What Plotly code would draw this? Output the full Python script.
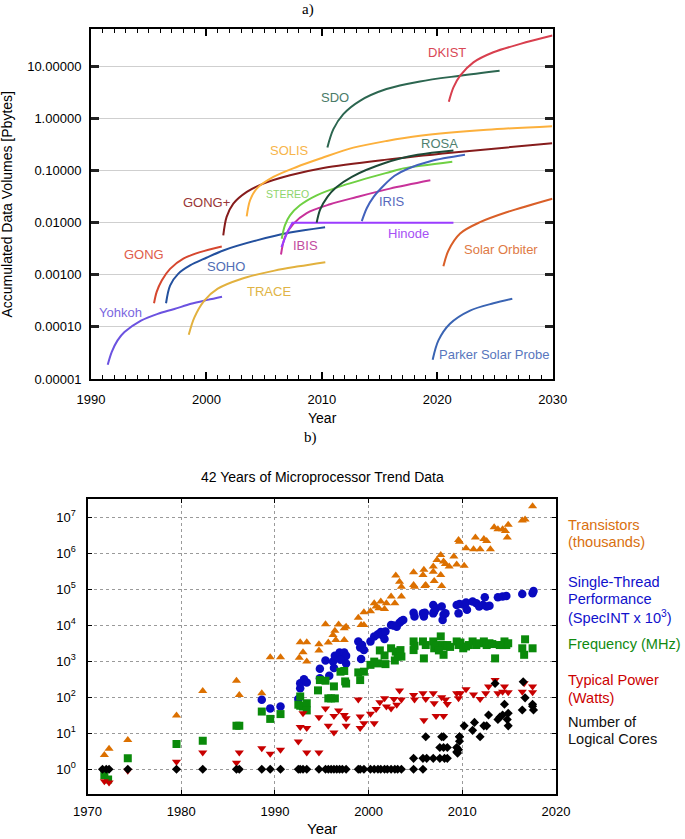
import math
import plotly.graph_objects as go

W, H = 685, 839

# ================= panel a) : accumulated data volumes (Pbytes) =================
yohkoh_x = [1991.45, 1991.8, 1992.3, 1992.9, 1994.33, 1995.78, 1997.22, 1998.66, 2000.1, 2001.35]
yohkoh_v = [1.88e-5, 3.31e-5, 5.5e-5, 7.94e-5, 1.32e-4, 1.78e-4, 2.2e-4, 2.77e-4, 3.3e-4, 3.8e-4]

trace_x = [1998.47, 1998.95, 1999.82, 2000.98, 2003.0, 2005.9, 2008.0, 2010.3]
trace_v = [7.1e-5, 1.51e-4, 3.2e-4, 5.4e-4, 8.3e-4, 1.2e-3, 1.45e-3, 1.74e-3]

gong_x = [1995.46, 1995.69, 1996.13, 1996.85, 1998.0, 1999.45, 2001.33]
gong_v = [2.84e-4, 4.7e-4, 7.8e-4, 1.30e-3, 2.04e-3, 2.72e-3, 3.5e-3]

soho_x = [1996.5, 1996.85, 1997.57, 1998.58, 2000.0, 2001.46, 2004.36, 2007.24, 2010.28]
soho_v = [2.84e-4, 6.2e-4, 1.05e-3, 1.51e-3, 2.12e-3, 2.93e-3, 4.57e-3, 6.45e-3, 8.2e-3]

gongp_x = [2001.46, 2001.75, 2002.33, 2003.5, 2004.93, 2007.24, 2010.13, 2015.6, 2021.4, 2029.95]
gongp_v = [5.7e-3, 0.0129, 0.0232, 0.039, 0.056, 0.081, 0.112, 0.162, 0.222, 0.335]

solis_x = [2003.49, 2003.78, 2004.36, 2005.8, 2007.82, 2010.0, 2012.73, 2015.62, 2018.5, 2024.3, 2029.95]
solis_v = [0.0132, 0.0269, 0.045, 0.0753, 0.117, 0.174, 0.275, 0.37, 0.463, 0.604, 0.711]

stereo_x = [2006.52, 2006.8, 2007.24, 2008.1, 2009.55, 2011.86, 2015.9, 2017.06, 2021.3]
stereo_v = [4.9e-3, 8.9e-3, 0.0138, 0.0215, 0.0335, 0.052, 0.094, 0.11, 0.148]

ibis_x = [2006.46, 2006.8, 2007.53, 2008.69, 2010.71, 2013.02, 2015.9, 2019.4]
ibis_v = [2.45e-3, 5.3e-3, 9.5e-3, 0.0153, 0.0225, 0.031, 0.045, 0.065]

hinode_x = [2006.5, 2007.0, 2007.45, 2021.4]
hinode_v = [3.4e-3, 6.5e-3, 0.01, 0.01]

rosa_x = [2009.55, 2009.85, 2010.5, 2011.2, 2012.6, 2015.4, 2018.3, 2021.4]
rosa_v = [0.01, 0.0178, 0.0316, 0.0468, 0.0759, 0.138, 0.2, 0.243]

sdo_x = [2010.48, 2011.0, 2011.86, 2013.3, 2015.6, 2018.5, 2021.98, 2025.4]
sdo_v = [0.277, 0.622, 1.21, 2.18, 3.66, 5.13, 6.6, 8.22]

iris_x = [2013.46, 2013.9, 2014.5, 2015.3, 2016.3, 2017.5, 2019.4, 2022.4]
iris_v = [0.0107, 0.0191, 0.0316, 0.0501, 0.0794, 0.1096, 0.151, 0.2]

dkist_x = [2021.0, 2021.4, 2021.98, 2023.13, 2024.86, 2027.2, 2029.97]
dkist_v = [2.09, 3.94, 6.6, 11.9, 18.6, 26.9, 38.9]

solo_x = [2020.53, 2020.97, 2021.98, 2023.7, 2026.0, 2029.97]
solo_v = [1.45e-3, 2.93e-3, 6.2e-3, 0.0102, 0.0158, 0.0288]

parker_x = [2019.6, 2020.1, 2021.1, 2022.84, 2024.86, 2026.5]
parker_v = [2.34e-5, 5.5e-5, 1.15e-4, 2.06e-4, 2.84e-4, 3.47e-4]

# label text, position (year, Pbytes)
mission_labels = ["DKIST", "SDO", "SOLIS", "ROSA", "GONG+", "STEREO", "IRIS", "Hinode", "IBIS",
                  "GONG", "SOHO", "Solar Orbiter", "TRACE", "Yohkoh", "Parker Solar Probe"]
label_year = [2020.81, 2011.16, 2007.2, 2020.2, 1999.99, 2007.05, 2016.11, 2017.53, 2008.6,
              1994.59, 2001.72, 2025.53, 2005.44, 1992.54, 2024.94]
label_val = [18.6, 2.47, 0.245, 0.332, 0.0249, 0.0361, 0.0257, 0.00617, 0.00363,
             0.00244, 0.00146, 0.00302, 0.00048, 0.00019, 0.00003]

a_ticks = [1e-5, 1e-4, 1e-3, 1e-2, 1e-1, 1, 10]
a_ticktext = ["0.00001", "0.00010", "0.00100", "0.01000", "0.10000", "1.00000", "10.00000"]

# ================= panel b) : microprocessor trend data =================
tr_year = [1971.8, 1972.3, 1974.3, 1979.5, 1982.3, 1985.9, 1986.2, 1988.6, 1989.5, 1990.6,
           1992.6, 1992.7, 1993.0, 1993.4, 1993.4, 1994.7, 1994.7, 1995.4, 1995.7, 1996.2,
           1996.4, 1996.8, 1996.5, 1997.4, 1997.6, 1997.4, 1998.9, 1999.2, 1999.5, 1999.5,
           2000.2, 2000.6, 2000.8, 2001.1, 2001.3, 2001.7, 2001.9, 2002.4, 2002.8, 2002.9,
           2003.3, 2003.5, 2003.5, 2004.8, 2004.8, 2004.9, 2005.8, 2005.9, 2006.0, 2006.1,
           2006.9, 2006.9, 2007.0, 2007.3, 2007.7, 2007.7, 2007.8, 2008.0, 2008.2, 2008.6,
           2009.1, 2009.4, 2009.6, 2009.7, 2010.2, 2010.4, 2011.2, 2011.4, 2011.9, 2012.3,
           2012.6, 2013.0, 2013.4, 2013.8, 2014.3, 2014.6, 2014.9, 2014.8, 2016.4, 2016.7, 2017.5]
tr_val = [2.5, 3.7, 6.5, 31, 148, 288, 115, 129, 1290, 1290,
          1260, 3390, 1780, 3390, 977, 2950, 2000, 10700, 3310, 5370,
          7080, 10500, 3890, 8320, 9120, 3890, 16200, 10200, 10200, 22900,
          24500, 40700, 33100, 29500, 45700, 28200, 40700, 63100, 40700, 240000,
          162000, 117000, 63100, 295000, 132000, 117000, 251000, 347000, 123000, 132000,
          427000, 309000, 170000, 646000, 891000, 251000, 123000, 589000, 501000, 427000,
          813000, 490000, 2340000, 2090000, 447000, 1380000, 1290000, 2750000, 1290000, 2510000,
          2190000, 1290000, 5250000, 4680000, 4680000, 4170000, 6170000, 2750000, 8130000, 8710000, 20400000]

st_year = [1988.6, 1989.5, 1990.6, 1992.5, 1992.7, 1992.7, 1993.1, 1993.4, 1994.8, 1994.8,
           1995.4, 1995.8, 1996.2, 1996.3, 1996.4, 1996.9, 1997.2, 1997.4, 1997.6, 1997.6,
           1997.0, 1998.9, 1999.1, 1999.3, 1999.5, 1999.2, 2000.2, 2000.6, 2001.0, 2001.3,
           2001.5, 2001.7, 2001.8, 2002.4, 2002.7, 2003.0, 2003.3, 2003.5, 2003.7, 2004.8,
           2004.9, 2005.8, 2005.9, 2006.0, 2006.9, 2006.9, 2007.0, 2007.2, 2007.8, 2007.9,
           2008.0, 2008.2, 2009.4, 2009.6, 2009.7, 2010.1, 2010.4, 2010.5, 2011.1, 2011.5,
           2011.8, 2012.2, 2012.4, 2012.6, 2012.9, 2013.8, 2014.3, 2014.7, 2016.4, 2017.5, 2017.6]
st_val = [85, 49, 55, 89, 178, 245, 316, 257, 617, 339,
          1050, 398, 977, 646, 1410, 1740, 1350, 1740, 1410, 871,
          1100, 3550, 2400, 2820, 2040, 1150, 3550, 4900, 5620, 6460,
          5250, 4170, 6760, 10200, 9770, 9120, 11700, 13200, 14100, 22400,
          17400, 21400, 17400, 22400, 36300, 21400, 24000, 29500, 33100, 14100,
          19500, 21400, 36300, 21400, 38900, 38000, 42700, 26900, 45700, 40700,
          33100, 36300, 60300, 33100, 34700, 60300, 63100, 64600, 74100, 77600, 89100]

fr_year = [1971.8, 1972.2, 1974.3, 1979.5, 1982.3, 1985.9, 1986.2, 1988.6, 1989.5, 1990.6,
           1992.5, 1992.7, 1992.7, 1993.0, 1993.4, 1993.4, 1994.6, 1994.8, 1995.4, 1995.7,
           1996.0, 1996.3, 1996.4, 1997.0, 1997.4, 1997.5, 1997.6, 1998.9, 1999.1, 1999.5,
           2000.2, 2000.6, 2001.0, 2001.2, 2001.7, 2001.8, 2002.4, 2002.8, 2002.9, 2003.1,
           2003.4, 2003.5, 2004.8, 2004.8, 2004.9, 2005.8, 2005.9, 2006.1, 2006.9, 2007.0,
           2007.2, 2007.7, 2007.9, 2008.0, 2008.2, 2008.4, 2009.4, 2009.6, 2009.8, 2010.1,
           2010.4, 2011.1, 2011.5, 2011.8, 2012.3, 2012.6, 2012.9, 2013.5, 2014.3, 2014.5,
           2014.7, 2016.4, 2016.6, 2016.7, 2017.5, 2007.5, 2008.7, 2010.7, 2013.2, 2014.0, 2014.9]
fr_val = [0.69, 0.52, 2.0, 5.0, 6.2, 16, 16, 40, 25, 34,
          62, 58, 105, 55, 68, 43, 155, 300, 288, 93,
          93, 200, 93, 513, 537, 275, 240, 490, 300, 513,
          794, 977, 871, 2000, 1450, 832, 2290, 1050, 1860, 1350,
          2040, 1350, 3550, 2040, 2690, 3550, 1200, 2820, 3550, 2290,
          2820, 4900, 2820, 1510, 2570, 2820, 3550, 2820, 3310, 2290,
          2570, 3550, 2820, 3160, 3550, 2820, 3160, 1200, 2820, 3550,
          2820, 2290, 1510, 4070, 2290, 2000, 2500, 2820, 3000, 2820, 3160]

pw_year = [1971.8, 1972.3, 1974.3, 1979.5, 1982.3, 1985.9, 1986.2, 1988.6, 1989.5, 1990.6,
           1992.5, 1992.7, 1993.0, 1993.4, 1993.4, 1994.7, 1994.7, 1995.4, 1995.7, 1996.3,
           1996.3, 1996.8, 1997.4, 1997.6, 1997.6, 1998.9, 1999.1, 1999.1, 1999.5, 2000.2,
           2000.6, 2000.8, 2001.2, 2001.7, 2001.9, 2002.4, 2002.7, 2003.0, 2003.3, 2003.5,
           2004.8, 2004.9, 2005.8, 2005.9, 2006.1, 2006.9, 2007.0, 2007.2, 2007.8, 2008.0,
           2008.2, 2008.4, 2009.4, 2009.6, 2009.8, 2010.4, 2011.2, 2011.9, 2012.5, 2012.8,
           2013.5, 2013.8, 2014.3, 2014.5, 2014.9, 2016.4, 2016.6, 2017.5, 2017.5]
pw_val = [0.46, 0.43, 0.91, 1.6, 2.9, 1.5, 2.9, 3.8, 2.7, 3.5,
          5.9, 15, 36, 14, 2.9, 2.9, 28, 49, 16, 10.5,
          30, 43, 32, 16, 26, 87, 29, 14, 19, 35,
          19, 47, 72, 93, 55, 49, 89, 62, 155, 87,
          115, 87, 129, 23, 89, 129, 68, 30, 100, 30,
          87, 65, 129, 93, 129, 166, 120, 89, 129, 200,
          302, 129, 141, 200, 138, 141, 245, 200, 138]

co_year = [1971.6, 1972.0, 1972.3, 1974.3, 1979.5, 1982.3, 1985.9, 1986.2, 1988.6, 1989.5,
           1990.6, 1992.5, 1992.7, 1993.0, 1993.4, 1994.7, 1995.4, 1995.7, 1996.0, 1996.3,
           1996.6, 1996.9, 1997.2, 1997.6, 1998.9, 1999.1, 1999.5, 2000.2, 2000.6, 2001.0,
           2001.3, 2001.7, 2002.0, 2002.4, 2002.8, 2003.1, 2003.5, 2004.8, 2005.8,
           2004.8, 2005.8, 2006.2, 2006.9, 2007.6, 2008.1, 2008.4,
           2007.6, 2008.0, 2008.4, 2006.1, 2007.8, 2008.0, 2009.7,
           2009.4, 2009.4, 2009.5, 2009.6, 2009.7, 2009.7,
           2010.2, 2011.1, 2011.3, 2011.9, 2012.3, 2012.6, 2012.8, 2013.5, 2013.8, 2014.0,
           2014.3, 2014.5, 2014.8, 2014.9, 2014.9, 2016.4, 2016.5, 2016.7, 2017.5, 2017.5, 2017.6]
co_val = [1, 1, 1, 1, 1, 1, 1, 1, 1, 1,
          1, 1, 1, 1, 1, 1, 1, 1, 1, 1,
          1, 1, 1, 1, 1, 1, 1, 1, 1, 1,
          1, 1, 1, 1, 1, 1, 1, 1, 1,
          2, 2, 2, 2, 2, 2, 2,
          4, 4, 4, 8, 8, 8, 8,
          3, 4, 2.8, 3.5, 6, 8,
          16, 12, 20, 8, 16, 16, 32, 240, 24, 28,
          32, 64, 24, 36, 16, 44, 270, 96, 64, 56, 44]

b_ticks = [1, 10, 100, 1e3, 1e4, 1e5, 1e6, 1e7]
b_ticktext = ["10<sup>%d</sup>" % i for i in range(8)]

# ================= figure =================
def px_x(px):
    return px / W

def px_y(py):
    return 1 - py / H

fig = go.Figure()

curves = [
    (yohkoh_x, yohkoh_v, "#6b52e0", "spline"),
    (trace_x, trace_v, "#e2b13e", "spline"),
    (gong_x, gong_v, "#d6472f", "spline"),
    (soho_x, soho_v, "#23509e", "spline"),
    (gongp_x, gongp_v, "#861c1c", "spline"),
    (solis_x, solis_v, "#fcb03c", "spline"),
    (stereo_x, stereo_v, "#6fd043", "spline"),
    (ibis_x, ibis_v, "#c8329a", "spline"),
    (hinode_x, hinode_v, "#9b3cff", "linear"),
    (rosa_x, rosa_v, "#1d4a37", "spline"),
    (sdo_x, sdo_v, "#2c6650", "spline"),
    (iris_x, iris_v, "#4262bd", "spline"),
    (dkist_x, dkist_v, "#d83f4e", "spline"),
    (solo_x, solo_v, "#d95f28", "spline"),
    (parker_x, parker_v, "#3a64b3", "spline"),
]
for xs, vs, col, shp in curves:
    fig.add_trace(go.Scatter(x=xs, y=vs, mode="lines", xaxis="x", yaxis="y",
                             line=dict(color=col, width=2, shape=shp, smoothing=0.9),
                             hoverinfo="skip", showlegend=False))

label_colors = ["#d94756", "#4a7b68", "#f7b54a", "#4f7f6f", "#983636", "#8ed46c", "#5869bd",
                "#a650f5", "#c24ca0", "#e05c4b", "#4f6db5", "#e07a45", "#e0b445", "#7a66e0", "#5876bd"]
label_sizes = [13, 13, 13, 13, 13, 10.5, 13, 13, 13, 13, 13, 13, 13, 13, 13]

annotations = []
for t, yr, v, c, s in zip(mission_labels, label_year, label_val, label_colors, label_sizes):
    annotations.append(dict(text=t, x=yr, y=math.log10(v), xref="x", yref="y",
                            showarrow=False, xanchor="center", yanchor="middle",
                            font=dict(size=s, color=c)))

# panel b traces
series_b = [
    (tr_year, tr_val, "triangle-up", "#dc7000", 8),
    (st_year, st_val, "circle", "#0a0ac0", 8.5),
    (fr_year, fr_val, "square", "#0a8a0a", 8),
    (pw_year, pw_val, "triangle-down", "#c80000", 8),
    (co_year, co_val, "diamond", "#000000", 7),
]
for xs, vs, sym, col, sz in series_b:
    fig.add_trace(go.Scatter(x=xs, y=vs, mode="markers", xaxis="x2", yaxis="y2",
                             marker=dict(symbol=sym, color=col, size=sz, line=dict(width=0)),
                             hoverinfo="skip", showlegend=False))

serif = "Liberation Serif, DejaVu Serif, serif"
extra = [
    dict(text="a)", x=px_x(308), y=px_y(10), yanchor="middle", font=dict(family=serif, size=15)),
    dict(text="b)", x=px_x(310), y=px_y(437), yanchor="middle", font=dict(family=serif, size=15)),
    dict(text="Year", x=px_x(322), y=px_y(418), yanchor="middle", font=dict(size=14)),
    dict(text="Accumulated Data Volumes [Pbytes]", x=px_x(7), y=px_y(204.5), yanchor="middle",
         textangle=-90, font=dict(size=14)),
    dict(text="42 Years of Microprocessor Trend Data", x=px_x(322.7), y=px_y(477),
         yanchor="middle", font=dict(size=14)),
    dict(text="Year", x=px_x(322), y=0, yanchor="bottom", font=dict(size=15)),
]
for a in extra:
    a.update(xref="paper", yref="paper", showarrow=False, xanchor="center")
annotations += extra

right_lines = [
    ("Transistors", 525, "#d9700f"), ("(thousands)", 542.3, "#d9700f"),
    ("Single-Thread", 581.7, "#1010cc"), ("Performance", 599.3, "#1010cc"),
    ("(SpecINT x 10<sup>3</sup>)", 617.3, "#1010cc"),
    ("Frequency (MHz)", 644, "#108a10"),
    ("Typical Power", 680, "#cc0000"), ("(Watts)", 697.7, "#cc0000"),
    ("Number of", 721.7, "#111111"), ("Logical Cores", 739.3, "#111111"),
]
for t, py, c in right_lines:
    annotations.append(dict(text=t, x=px_x(566), y=px_y(py), xref="paper", yref="paper",
                            showarrow=False, xanchor="left", yanchor="middle",
                            font=dict(size=14.6, color=c)))

fig.update_layout(
    width=W, height=H, margin=dict(l=0, r=0, t=0, b=0, autoexpand=False),
    paper_bgcolor="white", plot_bgcolor="white", showlegend=False,
    font=dict(family="Liberation Sans, Arial, sans-serif", color="black"),
    annotations=annotations,
    xaxis=dict(domain=[px_x(91), px_x(552.7)], anchor="y", range=[1990, 2030], automargin=False,
               tick0=1990, dtick=10, ticks="inside", ticklen=7, tickwidth=1.5, tickcolor="black",
               showline=True, linecolor="black", linewidth=2, mirror="allticks",
               showgrid=False, zeroline=False, tickfont=dict(size=13), ticklabelstandoff=7,
               minor=dict(dtick=1, tick0=1990, ticks="inside", ticklen=4, tickwidth=1,
                          tickcolor="black", showgrid=False)),
    yaxis=dict(domain=[px_y(379), px_y(29.3)], anchor="x", type="log", range=[-5, 1.71],
               automargin=False,
               tickvals=a_ticks, ticktext=a_ticktext, ticks="inside", ticklen=8, tickwidth=2.5,
               tickcolor="#222222", showline=True, linecolor="black", linewidth=2,
               mirror="allticks", showgrid=True, gridcolor="#cfcfcf", gridwidth=1,
               zeroline=False, tickfont=dict(size=13), ticklabelstandoff=5),
    xaxis2=dict(domain=[px_x(87.5), px_x(556)], anchor="y2", range=[1970, 2020], automargin=False,
                tick0=1970, dtick=10, ticks="inside", ticklen=4, tickwidth=1, tickcolor="black",
                showline=True, linecolor="black", linewidth=2, mirror="allticks",
                showgrid=True, gridcolor="#9a9a9a", griddash="dot", gridwidth=1,
                zeroline=False, tickfont=dict(size=13), ticklabelstandoff=5),
    yaxis2=dict(domain=[px_y(793.5), px_y(499.3)], anchor="x2", type="log", range=[-0.675, 7.5],
                automargin=False,
                tickvals=b_ticks, ticktext=b_ticktext, ticks="inside", ticklen=4, tickwidth=1,
                tickcolor="black", showline=True, linecolor="black", linewidth=2,
                mirror="allticks", showgrid=True, gridcolor="#9a9a9a", griddash="dot",
                gridwidth=1, zeroline=False, tickfont=dict(size=13), ticklabelstandoff=7),
)

fig.write_html("out.html", config={"displayModeBar": False},
               post_script="document.body.style.margin='0px';document.body.style.padding='0px';")
